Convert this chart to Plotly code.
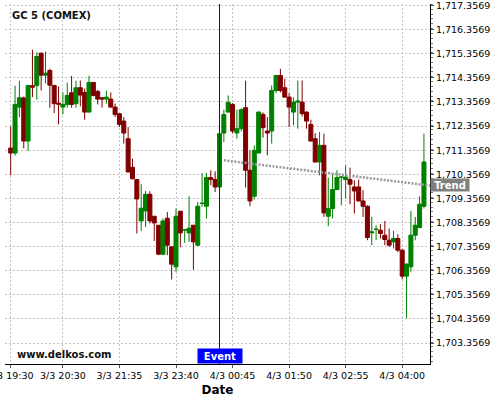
import plotly.graph_objects as go

# ---- data (5-minute candles, index-based x axis) ----
opens = [1711.446, 1711.239, 1713.144, 1713.525, 1711.736, 1714.030, 1714.042, 1715.380, 1714.469, 1714.663,
         1714.042, 1713.309, 1713.144, 1713.256, 1713.740, 1713.285, 1713.947, 1713.752, 1712.937, 1714.167,
         1713.794, 1713.533, 1713.475, 1713.475, 1713.144, 1712.870, 1712.564, 1711.835, 1710.647, 1710.138,
         1708.423, 1708.837, 1709.529, 1708.618, 1708.245, 1707.044, 1708.535, 1707.347, 1706.518, 1708.825,
         1708.038, 1707.926, 1708.245, 1707.417, 1709.144, 1709.032, 1710.220, 1710.138, 1709.831, 1712.067,
         1712.937, 1713.256, 1712.067, 1712.249, 1713.119, 1710.523, 1709.446, 1711.239, 1712.841, 1712.150,
         1712.150, 1713.835, 1714.456, 1713.947, 1713.558, 1712.937, 1713.351, 1713.351, 1712.937, 1712.427,
         1711.835, 1710.866, 1711.558, 1708.618, 1708.937, 1709.723, 1710.230, 1710.138, 1710.138, 1709.831,
         1709.831, 1709.251, 1709.032, 1707.926, 1708.067, 1708.038, 1707.831, 1707.624, 1707.554, 1707.694,
         1707.210, 1706.133, 1706.518, 1707.831, 1708.150, 1709.032]
highs = [1712.344, 1714.030, 1714.237, 1713.587, 1714.063, 1715.521, 1715.421, 1715.409, 1715.450, 1714.734,
         1714.063, 1714.001, 1713.752, 1714.167, 1714.436, 1714.237, 1714.249, 1713.918, 1714.444, 1714.167,
         1713.856, 1713.533, 1713.823, 1713.752, 1713.285, 1712.883, 1712.730, 1712.316, 1711.007, 1710.150,
         1709.943, 1709.665, 1709.653, 1708.618, 1708.245, 1708.523, 1708.796, 1707.376, 1708.937, 1708.825,
         1708.080, 1709.446, 1708.245, 1709.210, 1710.411, 1710.411, 1710.523, 1710.481, 1712.841, 1713.036,
         1713.628, 1713.309, 1713.036, 1713.102, 1714.237, 1711.351, 1711.558, 1712.966, 1712.924, 1712.730,
         1714.042, 1714.477, 1714.734, 1714.320, 1713.723, 1713.545, 1714.249, 1714.249, 1712.966, 1712.622,
         1712.067, 1712.109, 1712.042, 1710.220, 1710.411, 1710.523, 1710.253, 1710.730, 1710.634, 1710.109,
         1710.138, 1709.694, 1709.073, 1708.589, 1708.245, 1708.287, 1708.423, 1708.109, 1708.009, 1707.873,
         1707.251, 1706.672, 1708.837, 1708.589, 1709.446, 1712.042]
lows = [1710.316, 1711.131, 1712.730, 1711.434, 1711.330, 1713.558, 1713.450, 1713.835, 1714.125, 1713.119,
        1712.895, 1712.427, 1712.841, 1713.119, 1713.119, 1713.119, 1713.173, 1712.622, 1712.924, 1713.587,
        1713.256, 1713.119, 1713.285, 1713.119, 1712.730, 1712.316, 1711.628, 1710.440, 1710.150, 1707.901,
        1708.009, 1708.175, 1708.316, 1707.595, 1707.003, 1707.003, 1707.003, 1705.997, 1706.311, 1707.334,
        1707.512, 1707.554, 1706.394, 1707.376, 1709.003, 1708.523, 1709.901, 1709.624, 1709.819, 1711.694,
        1712.924, 1712.055, 1711.835, 1712.138, 1709.806, 1709.032, 1709.309, 1711.227, 1711.877, 1711.144,
        1711.628, 1713.723, 1713.752, 1713.545, 1712.316, 1712.386, 1712.249, 1712.759, 1712.249, 1711.723,
        1710.854, 1710.316, 1708.589, 1708.204, 1708.523, 1709.694, 1709.073, 1709.351, 1709.115, 1708.730,
        1709.239, 1708.589, 1707.624, 1707.417, 1707.624, 1707.694, 1707.417, 1707.347, 1707.280, 1707.127,
        1705.997, 1704.382, 1706.311, 1707.624, 1708.121, 1708.937]
closes = [1711.239, 1713.256, 1713.533, 1711.736, 1714.042, 1713.972, 1715.243, 1714.469, 1714.552, 1714.055,
          1713.285, 1713.268, 1713.256, 1713.628, 1713.256, 1713.947, 1713.641, 1712.937, 1714.167, 1713.628,
          1713.475, 1713.475, 1713.558, 1713.144, 1712.841, 1712.427, 1712.067, 1710.452, 1710.171, 1709.334,
          1708.949, 1709.529, 1708.423, 1708.340, 1707.044, 1708.423, 1707.417, 1706.630, 1708.618, 1707.926,
          1708.067, 1708.121, 1707.554, 1709.032, 1709.156, 1710.220, 1710.138, 1709.831, 1712.042, 1712.841,
          1713.338, 1712.150, 1712.249, 1713.036, 1710.523, 1709.251, 1711.351, 1712.937, 1712.291, 1712.067,
          1713.835, 1714.456, 1713.835, 1713.558, 1713.144, 1713.351, 1713.392, 1712.870, 1712.564, 1711.736,
          1710.866, 1711.558, 1708.755, 1708.937, 1709.723, 1710.220, 1710.245, 1710.241, 1709.943, 1709.665,
          1709.251, 1709.032, 1707.736, 1707.968, 1708.080, 1707.901, 1707.653, 1707.417, 1707.694, 1707.210,
          1706.133, 1706.630, 1707.831, 1708.245, 1709.115, 1710.866]
candle_idx = list(range(len(opens)))

tick_positions = [0, 12, 25, 38, 51, 64, 77, 90]
tick_labels = ["3/3 19:30", "3/3 20:30", "3/3 21:35", "3/3 23:40",
               "4/3 00:45", "4/3 01:50", "4/3 02:55", "4/3 04:00"]

event_idx = 48
trend_x = [49, 96.39]
trend_y = [1710.937, 1709.889]
trend_label_value = 1709.93

x_range = [-1.31, 96.39]
y_range = [1702.489, 1717.42]

# ---- figure ----
fig = go.Figure()

fig.add_trace(go.Scatter(
    x=trend_x, y=trend_y, mode="lines",
    line=dict(color="#999999", width=2.5, dash="2px,1.5px"),
    hoverinfo="skip", showlegend=False))

fig.add_trace(go.Candlestick(
    x=candle_idx, open=opens, high=highs, low=lows, close=closes,
    increasing=dict(line=dict(color="#008000", width=1), fillcolor="#008000"),
    decreasing=dict(line=dict(color="#800000", width=1), fillcolor="#800000"),
    whiskerwidth=0, hoverinfo="skip", showlegend=False))

fig.add_shape(type="line", xref="x", yref="paper", x0=event_idx, x1=event_idx,
              y0=0, y1=1, line=dict(color="#0000ff", width=1), layer="above")

grid = "#c4c4c4"
fig.update_layout(
    width=500, height=400,
    margin=dict(l=5, r=70, t=4, b=36),
    paper_bgcolor="white", plot_bgcolor="white",
    font=dict(family="DejaVu Sans", size=9.5, color="#000000"),
    boxgap=0.08, boxgroupgap=0,
    showlegend=False,
    xaxis=dict(
        range=x_range, rangeslider=dict(visible=False),
        tickmode="array", tickvals=tick_positions, ticktext=tick_labels,
        showgrid=True, gridcolor=grid, griddash="2px,2px", gridwidth=1,
        showline=True, linecolor="#000000", linewidth=1,
        ticks="outside", ticklen=3, tickcolor="#555555",
        zeroline=False, tickfont=dict(size=9.5), ticklabeloverflow="allow",
        automargin=False,
        title=dict(text="<b>Date</b>", font=dict(size=12), standoff=5),
    ),
    yaxis=dict(
        range=y_range, side="right",
        tick0=1703.3569, dtick=1, tickformat=",.4f",
        showgrid=True, gridcolor=grid, griddash="2px,2px", gridwidth=1,
        showline=True, linecolor="#000000", linewidth=1,
        ticks="outside", ticklen=3, tickcolor="#555555",
        minor=dict(ticks="outside", ticklen=2, dtick=0.2, tickcolor="#777777", showgrid=False),
        zeroline=False, tickfont=dict(size=9.5), ticklabeloverflow="allow",
        automargin=False,
    ),
    annotations=[
        dict(text="<b>GC 5 (COMEX)</b>", xref="paper", yref="paper",
             x=(10 - 5) / 425, y=(364 - 15) / 360, xanchor="left", yanchor="middle",
             showarrow=False, font=dict(size=10, color="#111111")),
        dict(text="<b>www.delkos.com</b>", xref="paper", yref="paper",
             x=(15 - 5) / 425, y=(364 - 354) / 360, xanchor="left", yanchor="middle",
             showarrow=False, font=dict(size=10, color="#111111")),
        dict(text="<b>Event</b>", xref="x", yref="paper", x=event_idx, y=0,
             xanchor="center", yanchor="bottom", showarrow=False,
             bgcolor="#0000ff", borderpad=0, width=44, height=14,
             font=dict(size=10, color="#ffffff")),
        dict(text="<b>Trend</b>", xref="paper", yref="y", x=1, y=trend_label_value,
             xanchor="left", yanchor="middle", showarrow=False,
             bgcolor="#808080", borderpad=0, width=38, height=12,
             font=dict(size=10, color="#ffffff")),
    ],
)

fig.write_html("out.html", config={"displayModeBar": False},
               post_script="document.body.style.margin='0';document.body.style.padding='0';document.body.style.overflow='hidden';")
